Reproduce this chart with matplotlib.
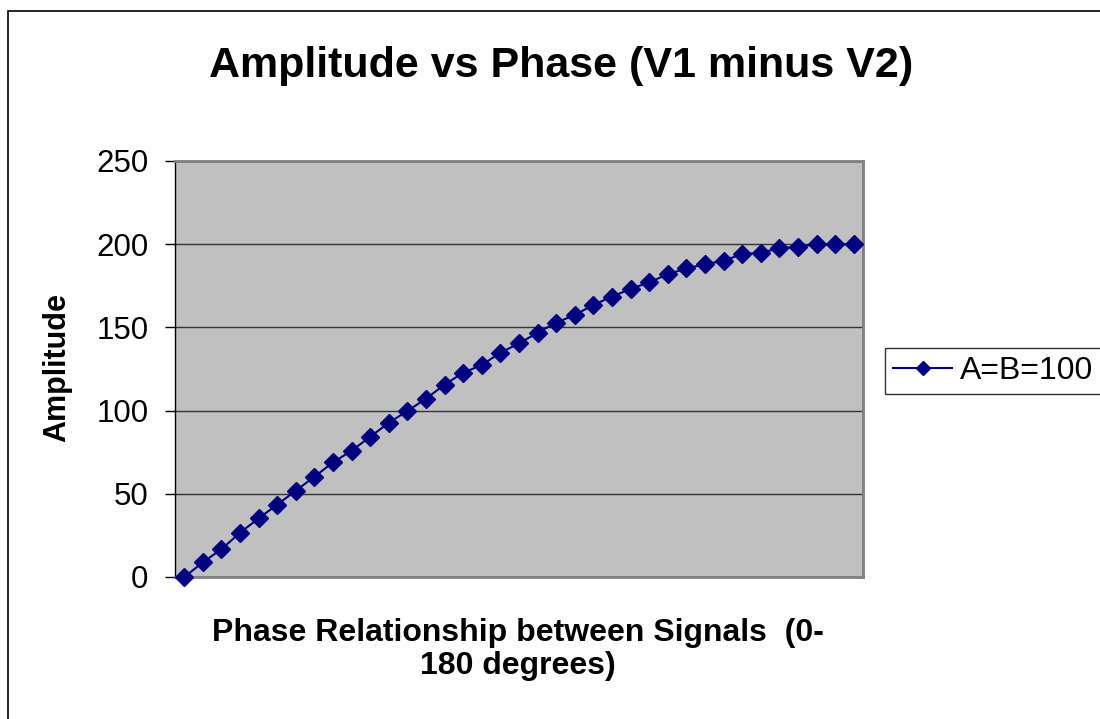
import matplotlib.pyplot as plt
from matplotlib.patches import Rectangle

plt.rcParams['font.family'] = ['Liberation Sans', 'DejaVu Sans']

# data (phase in degrees, amplitude)
phase_deg = [0, 5, 10, 15, 20, 25, 30, 35, 40, 45, 50, 55, 60, 65, 70, 75, 80, 85, 90,
             95, 100, 105, 110, 115, 120, 125, 130, 135, 140, 145, 150, 155, 160, 165,
             170, 175, 180]
amplitude = [0, 8.8, 16.8, 26.6, 35.3, 43.5, 51.9, 60.3, 68.9, 75.9, 84.3, 92.7, 99.8,
             107.2, 115.6, 122.8, 127.4, 134.8, 140.4, 146.8, 152.8, 157.5, 163.5, 168.5,
             173.1, 177.1, 181.9, 185.5, 187.9, 190.1, 194.0, 194.9, 197.5, 198.5, 199.9,
             199.9, 200.0]
y_ticks = [0, 50, 100, 150, 200, 250]
series_name = 'A=B=100'

W, H = 1100, 719
fig = plt.figure(figsize=(W / 100, H / 100), dpi=100)

# outer chart border (runs off the right and bottom of the image)
fig.patches.append(Rectangle((8 / W, -0.1), 1.2, 1 - 11 / H + 0.1, transform=fig.transFigure,
                             fill=False, edgecolor='black', lw=1.2))

ax = fig.add_axes([175 / W, 1 - 577 / H, (863 - 175) / W, (577 - 161) / H])
ax.set_facecolor('#C0C0C0')

ax.plot(phase_deg, amplitude, color='#000080', lw=1.5, marker='D', ms=9.5,
        markeredgecolor='#000080', label=series_name, clip_on=False, zorder=3)

ax.set_xlim(-2.5, 182.5)
ax.set_ylim(0, 250)
ax.set_yticks(y_ticks)
ax.set_xticks([])
ax.yaxis.grid(True, color='#333333', lw=1)
ax.set_axisbelow(True)
ax.tick_params(axis='y', length=7, width=1, pad=12, labelsize=22.5, color='black')

for side in ['top', 'right', 'bottom']:
    ax.spines[side].set_color('#808080')
    ax.spines[side].set_linewidth(2)
ax.spines['left'].set_color('black')
ax.spines['left'].set_linewidth(1)

fig.text(561 / W, 1 - 77 / H, 'Amplitude vs Phase (V1 minus V2)', ha='center', va='baseline',
         fontsize=31, fontweight='bold')
fig.text(57 / W, 1 - 368 / H, 'Amplitude', rotation=90, ha='center', va='center',
         fontsize=22, fontweight='bold')
fig.text(518 / W, 1 - 618 / H, 'Phase Relationship between Signals  (0-\n180 degrees)',
         ha='center', va='top', fontsize=23, fontweight='bold', linespacing=1.14)

# legend box runs past the right edge of the image, as in the original
leg = ax.legend(loc='center left', bbox_to_anchor=(885 / W, 1 - 371 / H),
                bbox_transform=fig.transFigure, fontsize=23, frameon=True, fancybox=False,
                borderaxespad=0, borderpad=0.26, handlelength=1.85, handletextpad=0.25,
                markerscale=0.7)
leg.get_frame().set_edgecolor('black')
leg.get_frame().set_linewidth(1)

fig.savefig('out.png', dpi=100, facecolor='white')
